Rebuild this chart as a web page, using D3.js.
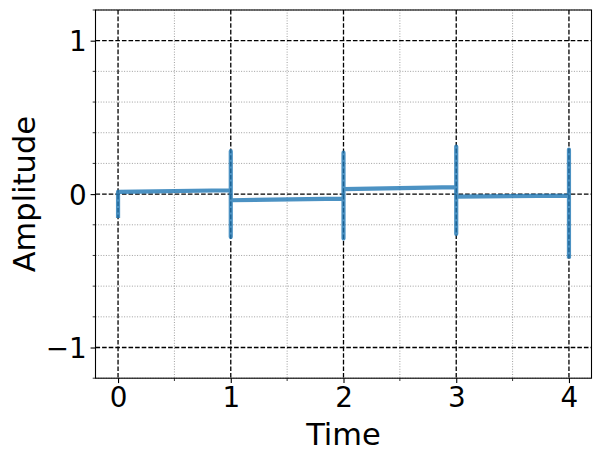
<!DOCTYPE html>
<html>
<head>
<meta charset="utf-8">
<script src="https://cdn.jsdelivr.net/npm/d3@7"></script>
<style>
	body { margin: 0; background: #fff; }
	text { font-family: 'DejaVu Sans', sans-serif; fill: #000; }
</style>
</head>
<body>
<div id="chart"></div>
<script>
/*globals d3*/
'use strict';

// signal samples (time, amplitude)
const times = [0, 0, 1, 1, 1, 1, 2, 2, 2, 2, 3, 3, 3, 3, 4, 4, 4];
const amplitudes = [-0.155, 0.015, 0.025, 0.28, -0.28, -0.04, -0.03, 0.27, -0.29, 0.033, 0.046, 0.31, -0.26, -0.017, -0.01, 0.29, -0.42];
const xTicks = [0, 1, 2, 3, 4];
const yTicks = [-1, 0, 1];
const xMinor = [0.5, 1.5, 2.5, 3.5];
const yMinor = [-1.2, -0.8, -0.6, -0.4, -0.2, 0.2, 0.4, 0.6, 0.8, 1.2];

const width = 601;
const height = 461;
const margin = { top: 10, right: 10, bottom: 83, left: 95.5 };
const innerW = 591.5 - margin.left;
const innerH = 378.2 - margin.top;

const svg = d3.select('#chart').append('svg')
	.attr('width', width)
	.attr('height', height);

const g = svg.append('g')
	.attr('transform', 'translate(' + margin.left + ',' + margin.top + ')');

const x = d3.scaleLinear().domain([-0.2, 4.2]).range([0, innerW]);
const y = d3.scaleLinear().domain([-1.2, 1.2]).range([innerH, 0]);

// minor grid
g.append('g').selectAll('line.mx').data(xMinor).join('line')
	.attr('x1', d => x(d)).attr('x2', d => x(d))
	.attr('y1', 0).attr('y2', innerH)
	.style('stroke', '#888').style('stroke-width', 0.8)
	.style('stroke-dasharray', '1,1.6');
g.append('g').selectAll('line.my').data(yMinor).join('line')
	.attr('y1', d => y(d)).attr('y2', d => y(d))
	.attr('x1', 0).attr('x2', innerW)
	.style('stroke', '#888').style('stroke-width', 0.8)
	.style('stroke-dasharray', '1,1.6');

// major grid
g.append('g').selectAll('line').data(xTicks).join('line')
	.attr('x1', d => x(d)).attr('x2', d => x(d))
	.attr('y1', 0).attr('y2', innerH)
	.style('stroke', '#000').style('stroke-width', 1.3)
	.style('stroke-dasharray', '4.6,2');
g.append('g').selectAll('line').data(yTicks).join('line')
	.attr('y1', d => y(d)).attr('y2', d => y(d))
	.attr('x1', 0).attr('x2', innerW)
	.style('stroke', '#000').style('stroke-width', 1.3)
	.style('stroke-dasharray', '4.6,2');

// signal
g.append('clipPath').attr('id', 'clip')
	.append('rect').attr('width', innerW).attr('height', innerH);

const line = d3.line()
	.x((d, i) => x(times[i]))
	.y(d => y(d));

g.append('path')
	.datum(amplitudes)
	.attr('clip-path', 'url(#clip)')
	.attr('d', line)
	.style('fill', 'none')
	.style('stroke', '#1f77b4')
	.style('stroke-opacity', 0.8)
	.style('stroke-width', 4.2)
	.style('stroke-linejoin', 'round');

// axes
const xAxis = d3.axisBottom(x).tickValues(xTicks).tickSize(4.9).tickPadding(4)
	.tickFormat(d3.format('d'));
const yAxis = d3.axisLeft(y).tickValues(yTicks).tickSize(4.9).tickPadding(4)
	.tickFormat(d => d < 0 ? '\u2212' + Math.abs(d) : d);

const gx = g.append('g').attr('transform', 'translate(0,' + innerH + ')').call(xAxis);
const gy = g.append('g').call(yAxis);
[gx, gy].forEach(a => {
	a.select('.domain').remove();
	a.selectAll('.tick line').style('stroke', '#000').style('stroke-width', 1.1);
	a.selectAll('.tick text').style('font-size', '27.8px').style('font-family', "'DejaVu Sans', sans-serif");
});
gy.selectAll('.tick text').attr('dy', '0.36em');

// minor ticks
g.append('g').selectAll('line').data(xMinor).join('line')
	.attr('x1', d => x(d)).attr('x2', d => x(d))
	.attr('y1', innerH).attr('y2', innerH + 2.8)
	.style('stroke', '#000').style('stroke-width', 0.8);
g.append('g').selectAll('line').data(yMinor).join('line')
	.attr('y1', d => y(d)).attr('y2', d => y(d))
	.attr('x1', 0).attr('x2', -2.8)
	.style('stroke', '#000').style('stroke-width', 0.8);

// frame
g.append('rect')
	.attr('width', innerW).attr('height', innerH)
	.style('fill', 'none').style('stroke', '#000').style('stroke-width', 1.1);

// labels
svg.append('text')
	.text('Time')
	.attr('x', margin.left + innerW / 2).attr('y', 445)
	.style('text-anchor', 'middle').style('font-size', '30.5px');

svg.append('text')
	.text('Amplitude')
	.attr('transform', 'translate(35,' + (margin.top + innerH / 2) + ') rotate(-90)')
	.style('text-anchor', 'middle').style('font-size', '30.5px');
</script>
</body>
</html>
